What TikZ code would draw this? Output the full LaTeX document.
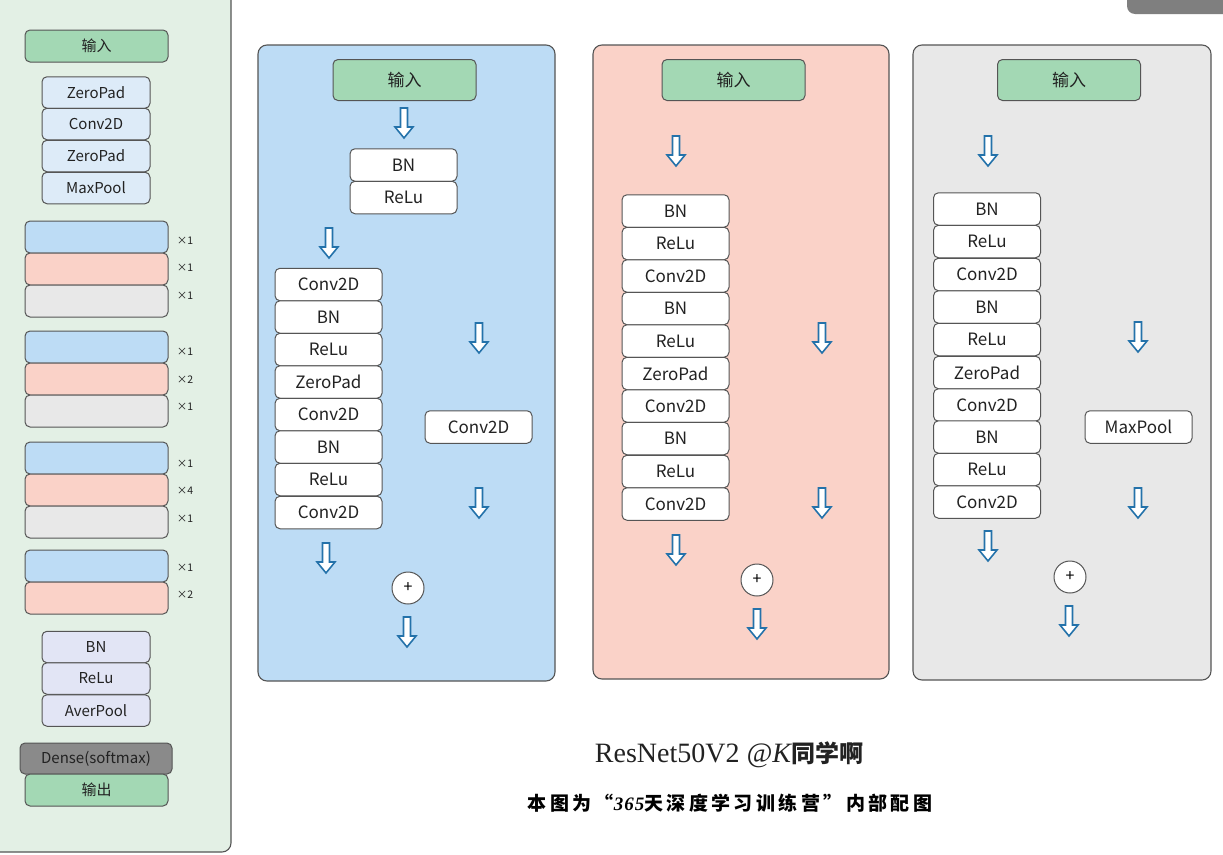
\documentclass[tikz,border=0pt]{standalone}
\usepackage{fontspec}
\setmainfont{Noto Sans CJK SC}
\newfontfamily\serifT{Liberation Serif}
\newfontfamily\cjkT{Noto Sans CJK SC}
\newfontfamily\cjkW{Noto Sans CJK SC}[LetterSpace=18]
\newfontfamily\serifW{Liberation Serif}[LetterSpace=5]
\definecolor{leftgreen}{HTML}{E3F0E5}
\definecolor{ingreen}{HTML}{A3D8B4}
\definecolor{lblue}{HTML}{DDEBF8}
\definecolor{blueP}{HTML}{BDDCF5}
\definecolor{redP}{HTML}{FAD2C8}
\definecolor{grayP}{HTML}{E8E8E8}
\definecolor{lav}{HTML}{E2E5F5}
\definecolor{densegray}{HTML}{8A8A8A}
\definecolor{bord}{HTML}{555555}
\definecolor{arrblue}{HTML}{2472AA}
\definecolor{topgray}{HTML}{7F7F7F}
\definecolor{txt}{HTML}{222222}
\tikzset{
  panel/.style={draw=bord, line width=1.1pt, rounded corners=9pt},
  layer/.style={draw=bord, line width=1pt, rounded corners=5pt, inner sep=0pt,
    minimum width=107pt, minimum height=32.5pt, fill=white, text=txt,
    font=\fontsize{17}{19}\selectfont},
  inbox/.style={layer, fill=ingreen, minimum width=143pt, minimum height=41pt},
  lsmall/.style={layer, minimum width=108pt, minimum height=31.5pt, font=\fontsize{15}{17}\selectfont},
  lbig/.style={layer, minimum width=143pt, minimum height=32pt, font=\fontsize{15}{17}\selectfont},
  times/.style={text=txt, font=\fontsize{10.5}{12}\selectfont, inner sep=0pt},
  plusnode/.style={circle, draw=bord, line width=1pt, fill=white, minimum size=32pt, inner sep=0pt,
    font=\fontsize{16}{18}\selectfont},
  darr/.pic={\draw[draw=arrblue, fill=white, line width=1.6pt, line join=miter]
     (-3.5,-15) -- (-3.5,4) -- (-9,4) -- (0,15) -- (9,4) -- (3.5,4) -- (3.5,-15) -- cycle;}
}
\begin{document}
\begin{tikzpicture}[x=1pt, y=-1pt]
\useasboundingbox (0,0) rectangle (1223,854);
\clip (0,0) rectangle (1223,854);
\fill[white] (0,0) rectangle (1223,854);
% top-right grey tab
\fill[topgray, rounded corners=8pt] (1127,-30) rectangle (1250,14);
% ---------- left panel ----------
\draw[panel, fill=leftgreen] (-30,-30) rectangle (231,852);
\node[lbig, fill=ingreen] (lin) at (96.5,46) {输入};
\node[lsmall, fill=lblue] (lz1) at (96,92.5) {ZeroPad};
\node[lsmall, fill=lblue] (lc1) at (96,124) {Conv2D};
\node[lsmall, fill=lblue] (lz2) at (96,156) {ZeroPad};
\node[lsmall, fill=lblue] (lm1) at (96,188) {MaxPool};
\node[lbig, fill=blueP] (g1a) at (96.5,237) {};
\node[lbig, fill=redP] (g1b) at (96.5,269) {};
\node[lbig, fill=grayP] (g1c) at (96.5,301) {};
\node[times] (t1a) at (185,241) {×1};
\node[times] (t1b) at (185,268) {×1};
\node[times] (t1c) at (185,296) {×1};
\node[lbig, fill=blueP] (g2a) at (96.5,347) {};
\node[lbig, fill=redP] (g2b) at (96.5,379) {};
\node[lbig, fill=grayP] (g2c) at (96.5,411) {};
\node[times] (t2a) at (185,352) {×1};
\node[times] (t2b) at (185,380) {×2};
\node[times] (t2c) at (185,407) {×1};
\node[lbig, fill=blueP] (g3a) at (96.5,458) {};
\node[lbig, fill=redP] (g3b) at (96.5,490) {};
\node[lbig, fill=grayP] (g3c) at (96.5,522) {};
\node[times] (t3a) at (185,464) {×1};
\node[times] (t3b) at (185,491) {×4};
\node[times] (t3c) at (185,519) {×1};
\node[lbig, fill=blueP] (g4a) at (96.5,566) {};
\node[lbig, fill=redP] (g4b) at (96.5,598) {};
\node[times] (t4a) at (185,568) {×1};
\node[times] (t4b) at (185,595) {×2};
\node[lsmall, fill=lav] (lbn) at (96,647) {BN};
\node[lsmall, fill=lav] (lre) at (96,678.5) {ReLu};
\node[lsmall, fill=lav] (lav) at (96,710.5) {AverPool};
\node[lbig, fill=densegray, minimum width=152pt, minimum height=31pt] (lden) at (96,758.5) {Dense(softmax)};
\node[lbig, fill=ingreen] (lout) at (96.5,790) {输出};
% ---------- blue panel ----------
\draw[panel, fill=blueP] (258,45) rectangle (555,681);
\node[inbox] (bin) at (404.5,80) {输入};
\pic at (404,123) {darr};
\node[layer] (bbn) at (403.5,165) {BN};
\node[layer] (bre) at (403.5,197.5) {ReLu};
\pic at (329,243) {darr};
\node[layer] (b1) at (328.5,284.5) {Conv2D};
\node[layer] (b2) at (328.5,317) {BN};
\node[layer] (b3) at (328.5,349.5) {ReLu};
\node[layer] (b4) at (328.5,382) {ZeroPad};
\node[layer] (b5) at (328.5,414.5) {Conv2D};
\node[layer] (b6) at (328.5,447) {BN};
\node[layer] (b7) at (328.5,479.5) {ReLu};
\node[layer] (b8) at (328.5,512.5) {Conv2D};
\pic at (479,338) {darr};
\node[layer] (bsc) at (478.5,427) {Conv2D};
\pic at (479,503) {darr};
\pic at (326,558) {darr};
\node[plusnode] (bplus) at (408,588) {+};
\pic at (407,632) {darr};
% ---------- red panel ----------
\draw[panel, fill=redP] (593,45) rectangle (889,679);
\node[inbox] (rin) at (733.5,80) {输入};
\pic at (676,151) {darr};
\node[layer] (r1) at (675.5,211) {BN};
\node[layer] (r2) at (675.5,243.5) {ReLu};
\node[layer] (r3) at (675.5,276) {Conv2D};
\node[layer] (r4) at (675.5,308.5) {BN};
\node[layer] (r5) at (675.5,341) {ReLu};
\node[layer] (r6) at (675.5,373.5) {ZeroPad};
\node[layer] (r7) at (675.5,406) {Conv2D};
\node[layer] (r8) at (675.5,438.5) {BN};
\node[layer] (r9) at (675.5,471.5) {ReLu};
\node[layer] (r10) at (675.5,504) {Conv2D};
\pic at (822,338) {darr};
\pic at (822,503) {darr};
\pic at (676,550) {darr};
\node[plusnode] (rplus) at (757,580) {+};
\pic at (757,624) {darr};
% ---------- grey panel ----------
\draw[panel, fill=grayP] (913,45) rectangle (1211,680);
\node[inbox] (gin) at (1069,80) {输入};
\pic at (988,151) {darr};
\node[layer] (k1) at (987,209) {BN};
\node[layer] (k2) at (987,241.5) {ReLu};
\node[layer] (k3) at (987,274.5) {Conv2D};
\node[layer] (k4) at (987,307) {BN};
\node[layer] (k5) at (987,339.5) {ReLu};
\node[layer] (k6) at (987,372.5) {ZeroPad};
\node[layer] (k7) at (987,405) {Conv2D};
\node[layer] (k8) at (987,437) {BN};
\node[layer] (k9) at (987,469.5) {ReLu};
\node[layer] (k10) at (987,502) {Conv2D};
\pic at (1138,337) {darr};
\node[layer] (gsc) at (1138.5,427) {MaxPool};
\pic at (1138,503) {darr};
\pic at (988,546) {darr};
\node[plusnode] (gplus) at (1070,577) {+};
\pic at (1069,621) {darr};
% ---------- titles ----------
\node[text=txt, inner sep=0pt] (title) at (729,755)
  {{\serifT\fontsize{28}{30}\selectfont ResNet50V2 \itshape @K}{\cjkT\bfseries\fontsize{24}{26}\selectfont 同学啊}};
\node[text=black, inner sep=0pt] (subtitle) at (730,803)
  {\cjkW\bfseries\fontsize{19}{21}\selectfont 本图为“{\serifW\itshape 365}天深度学习训练营”内部配图};
\end{tikzpicture}
\end{document}
